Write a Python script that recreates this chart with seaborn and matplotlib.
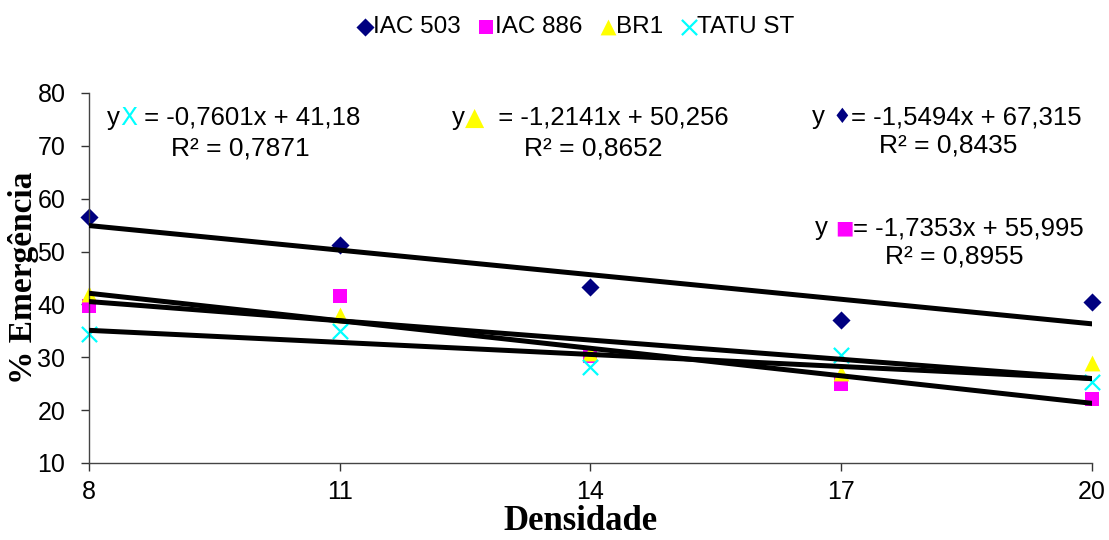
import numpy as np
import pandas as pd
import matplotlib
matplotlib.use("Agg")
import matplotlib.pyplot as plt
import seaborn as sns

# ---- data ----
densidade = [8, 11, 14, 17, 20]
iac503 = [56.5, 51.2, 43.3, 37.1, 40.4]
iac886 = [39.7, 41.6, 30.2, 24.9, 22.1]
br1 = [42.0, 38.0, 30.8, 27.0, 28.9]
tatu = [34.5, 34.9, 28.2, 30.4, 25.3]
series_names = ["IAC 503", "IAC 886", "BR1", "TATU ST"]
slopes = [-1.5494, -1.7353, -1.2141, -0.7601]
intercepts = [67.315, 55.995, 50.256, 41.18]
eq_labels = ["-1,5494x + 67,315", "-1,7353x + 55,995", "-1,2141x + 50,256", "-0,7601x + 41,18"]
r2_labels = ["R² = 0,8435", "R² = 0,8955", "R² = 0,8652", "R² = 0,7871"]
y_ticks = [10, 20, 30, 40, 50, 60, 70, 80]

colors = ["#000080", "#FF00FF", "#FFFF00", "#00FFFF"]
markers = ["D", "s", "^", "x"]
msizes = [85, 115, 130, 120]
glyphs = ["\u2666", "\u25A0", "\u25B2", "X"]
glyph_sizes = [15, 14, 18, 18]
prefixes = ["y ", "y ", "y", "y"]
joins = ["= ", "= ", "  = ", " = "]

df = pd.DataFrame({"Densidade": densidade * 4,
                   "val": iac503 + iac886 + br1 + tatu,
                   "serie": sum([[n] * 5 for n in series_names], [])})

sns.set_style("white")
plt.rcParams["font.family"] = ["Liberation Sans", "DejaVu Sans"]
for k in ["text.color", "axes.labelcolor", "xtick.color", "ytick.color"]:
    plt.rcParams[k] = "black"

W, H = 1109, 540
fig = plt.figure(figsize=(W / 100, H / 100), dpi=100)
ax = fig.add_axes([89 / W, 1 - 463 / H, (1092 - 89) / W, (463 - 93) / H])

for i, name in enumerate(series_names):
    sub = df[df.serie == name]
    kw = dict(color=colors[i], marker=markers[i], s=msizes[i], zorder=2, label=name,
              clip_on=False)
    if markers[i] == "x":
        kw.update(linewidth=1.6)
    else:
        kw.update(edgecolor=colors[i], linewidth=0)
    sns.scatterplot(x=sub.Densidade, y=sub.val, ax=ax, **kw)

xs = np.array(densidade, dtype=float)
for i in range(4):
    sns.lineplot(x=xs, y=slopes[i] * xs + intercepts[i], ax=ax, color="black",
                 linewidth=3.6, zorder=3, legend=False)

ax.set_xlim(8, 20)
ax.set_ylim(10, 80)
ax.set_xticks(densidade)
ax.set_yticks(y_ticks)
ax.tick_params(axis="both", labelsize=18, length=6, width=1, color="#333333",
               direction="out", bottom=True, left=True)
ax.tick_params(axis="x", pad=6)
ax.tick_params(axis="y", pad=11)
for s in ["top", "right"]:
    ax.spines[s].set_visible(False)
for s in ["left", "bottom"]:
    ax.spines[s].set_color("#444444")
    ax.spines[s].set_linewidth(1)

ax.set_xlabel("Densidade", fontsize=25, fontweight="bold", family="Liberation Serif", va="center")
ax.xaxis.set_label_coords((581 - 89) / 1003, (463 - 521) / 370)
ax.set_ylabel("% Emergência", fontsize=24, fontweight="bold", family="Liberation Serif", va="center")
ax.yaxis.set_label_coords((24 - 89) / 1003, 0.5)

# equations
eq_pos = [(812, 117), (815, 228), (452, 118), (107, 118)]
r2_pos = [(948, 146), (954, 257), (593, 148), (240, 148)]
for i in range(4):
    px, py = eq_pos[i]
    t1 = fig.text(px / W, 1 - py / H, prefixes[i], fontsize=18.5, va="center", ha="left")
    t2 = ax.annotate(glyphs[i], xy=(1, 0.5), xycoords=t1, va="center", ha="left",
                     fontsize=glyph_sizes[i], color=colors[i], family="DejaVu Sans")
    ax.annotate(joins[i] + eq_labels[i], xy=(1, 0.5), xycoords=t2, va="center",
                ha="left", fontsize=18.5)
    rx, ry = r2_pos[i]
    fig.text(rx / W, 1 - ry / H, r2_labels[i], fontsize=19, va="center", ha="center")

handles, labels = ax.get_legend_handles_labels()
ax.legend(handles, labels, loc="center", bbox_to_anchor=(576 / W, 1 - 27 / H),
          bbox_transform=fig.transFigure, ncol=4, frameon=False, fontsize=17.5,
          handletextpad=0.05, columnspacing=0.75, handlelength=0.6, markerscale=1.0)

fig.savefig("out.png", dpi=100)
